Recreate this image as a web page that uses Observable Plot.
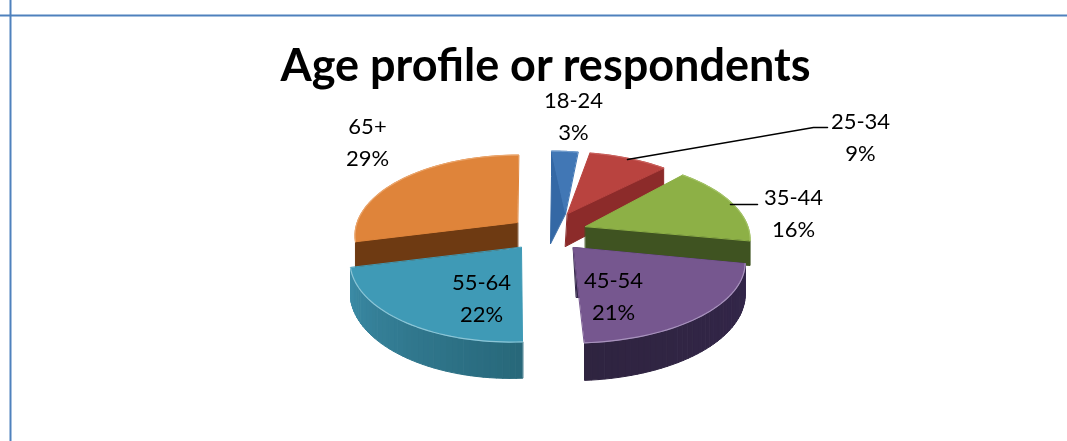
<!DOCTYPE html>
<html>
<head>
<meta charset="utf-8">
<script src="https://cdn.jsdelivr.net/npm/d3@7"></script>
<script src="https://cdn.jsdelivr.net/npm/@observablehq/plot@0.6"></script>
<style>
html,body{margin:0;padding:0;background:#fff;overflow:hidden}
svg{display:block;filter:blur(0.45px)}
</style>
</head>
<body>
<div id="chart"></div>
<script>
// Data
const ages = ["18-24", "25-34", "35-44", "45-54", "55-64", "65+"];
const shares = [3, 9, 16, 21, 22, 29];
const chartTitle = "Age profile or respondents";

// Styles
const topColors  = ["#4177b5", "#b9433f", "#8db046", "#76578f", "#3f9ab6", "#df843a"];
const wallColors = ["#3468a5", "#8c2b2a", "#3f5321", "#33264a", "#3b8ba6", "#6e3a12"];
const wallEnd    = [null, null, null, "#2f2440", "#28687a", null];
const edgeColors = ["#6f9bcc", "#c9605c", "#a3c266", "#a893bd", "#8cc5d6", "#eaa56c"];

// Layout of the exploded 3-D pie (pixels)
const W = 1067, H = 441;
const RY = 78, PERSPECTIVE = 0.175;
const radiusX = [165, 165, 165, 171, 158, 161];
const depth   = [30, 30, 24, 31, 30, 28];
const centers = [[551, 217], [563, 218], [582, 225], [571, 248], [510, 247], [518, 221]];
const apexes  = [[565, 213], [567, 213], [585, 226], [573, 247], [521, 247], [517, 222]];
const apexDrop = [[-15, 30], [-2, 33], [0, 29], [3, 50], [0, 0], [0, 25]];
// which straight cut face shows: 0 start edge, 1 end edge, null none
const cutFace = [0, 1, 1, 0, null, 0];
const outerWall = [false, false, false, true, true, false];
const labelAt = [[573, 100], [860, 121], [793, 197], [613, 280], [481, 282], [367, 126]];
const leaders = [
  {pts: [[627, 159], [813, 127], [827, 127]]},
  {pts: [[730, 204], [757, 204]]}
];

const TAU = Math.PI * 2;
const persp = Y => 1 / (1 - PERSPECTIVE * Y);
function rim(i, t, drop) {
  const Y = -Math.cos(t), s = persp(Y);
  return {
    x: centers[i][0] + radiusX[i] * Math.sin(t) * s,
    y: centers[i][1] + RY * Y * s + (drop ? depth[i] * s : 0)
  };
}

const total = d3.sum(shares);
const cum = d3.cumsum(shares);
const marks = [];
const drawOrder = [0, 1, 5, 2, 4, 3];

for (const i of drawOrder) {
  const a0 = (cum[i] - shares[i]) / total * TAU;
  const a1 = cum[i] / total * TAU;
  const arc = d3.range(0, 41).map(k => a0 + (a1 - a0) * k / 40);
  const apex = {x: apexes[i][0], y: apexes[i][1]};
  const apexLow = {x: apex.x + apexDrop[i][0], y: apex.y + apexDrop[i][1]};
  const polys = [];
  let id = 0;
  if (cutFace[i] !== null) {
    const a = cutFace[i] === 0 ? a0 : a1;
    polys.push([apex, rim(i, a, false), rim(i, a, true), apexLow].map(p => ({...p, id, color: wallColors[i]})));
    id++;
  }
  if (outerWall[i]) {
    for (let k = 0; k < 40; k++) {
      const col = i === 4
        ? d3.interpolateRgb(wallEnd[i], wallColors[i])(k / 39)
        : d3.interpolateRgb(wallColors[i], wallEnd[i])(k / 39);
      polys.push([rim(i, arc[k], false), rim(i, arc[k + 1], false), rim(i, arc[k + 1], true), rim(i, arc[k], true)]
        .map(p => ({...p, id, color: col})));
      id++;
    }
  }
  polys.push([apex, ...arc.map(t => rim(i, t, false))].map(p => ({...p, id, color: topColors[i]})));
  marks.push(Plot.line(polys.flat(), {
    x: "x", y: "y", z: "id", fill: "color", stroke: "color", strokeWidth: 1, curve: "linear-closed"
  }));
  marks.push(Plot.line(arc.map(t => rim(i, t, false)), {
    x: "x", y: "y", stroke: edgeColors[i], strokeWidth: 1.2
  }));
}

// Leader lines
for (const l of leaders) {
  marks.push(Plot.line(l.pts.map(([x, y]) => ({x, y})), {x: "x", y: "y", stroke: "#000", strokeWidth: 1.5}));
}

// Labels
const labels = ages.map((a, i) => ({
  text: `${a}\n${shares[i]}%`, x: labelAt[i][0], y: labelAt[i][1] + 13
}));
marks.push(Plot.text(labels, {
  x: "x", y: "y", text: "text", fontSize: 22, lineHeight: 1.47, fill: "#000",
  fontFamily: "Lato", textAnchor: "middle"
}));
marks.push(Plot.text([chartTitle], {
  x: () => 545, y: () => 66, text: d => d, fontSize: 45, fontWeight: "bold",
  fontFamily: "Lato", fill: "#000", textAnchor: "middle"
}));

// Chart-area border
marks.unshift(
  Plot.ruleX([10], {stroke: "#4f81bd", strokeWidth: 2}),
  Plot.ruleY([15], {stroke: "#4f81bd", strokeWidth: 2})
);

const chart = Plot.plot({
  width: W, height: H,
  margin: 0,
  x: {domain: [0, W], range: [0, W], axis: null},
  y: {domain: [0, H], range: [0, H], axis: null},
  color: {type: "identity"},
  style: {background: "#fff", overflow: "visible"},
  marks
});
document.getElementById("chart").append(chart);
</script>
</body>
</html>
